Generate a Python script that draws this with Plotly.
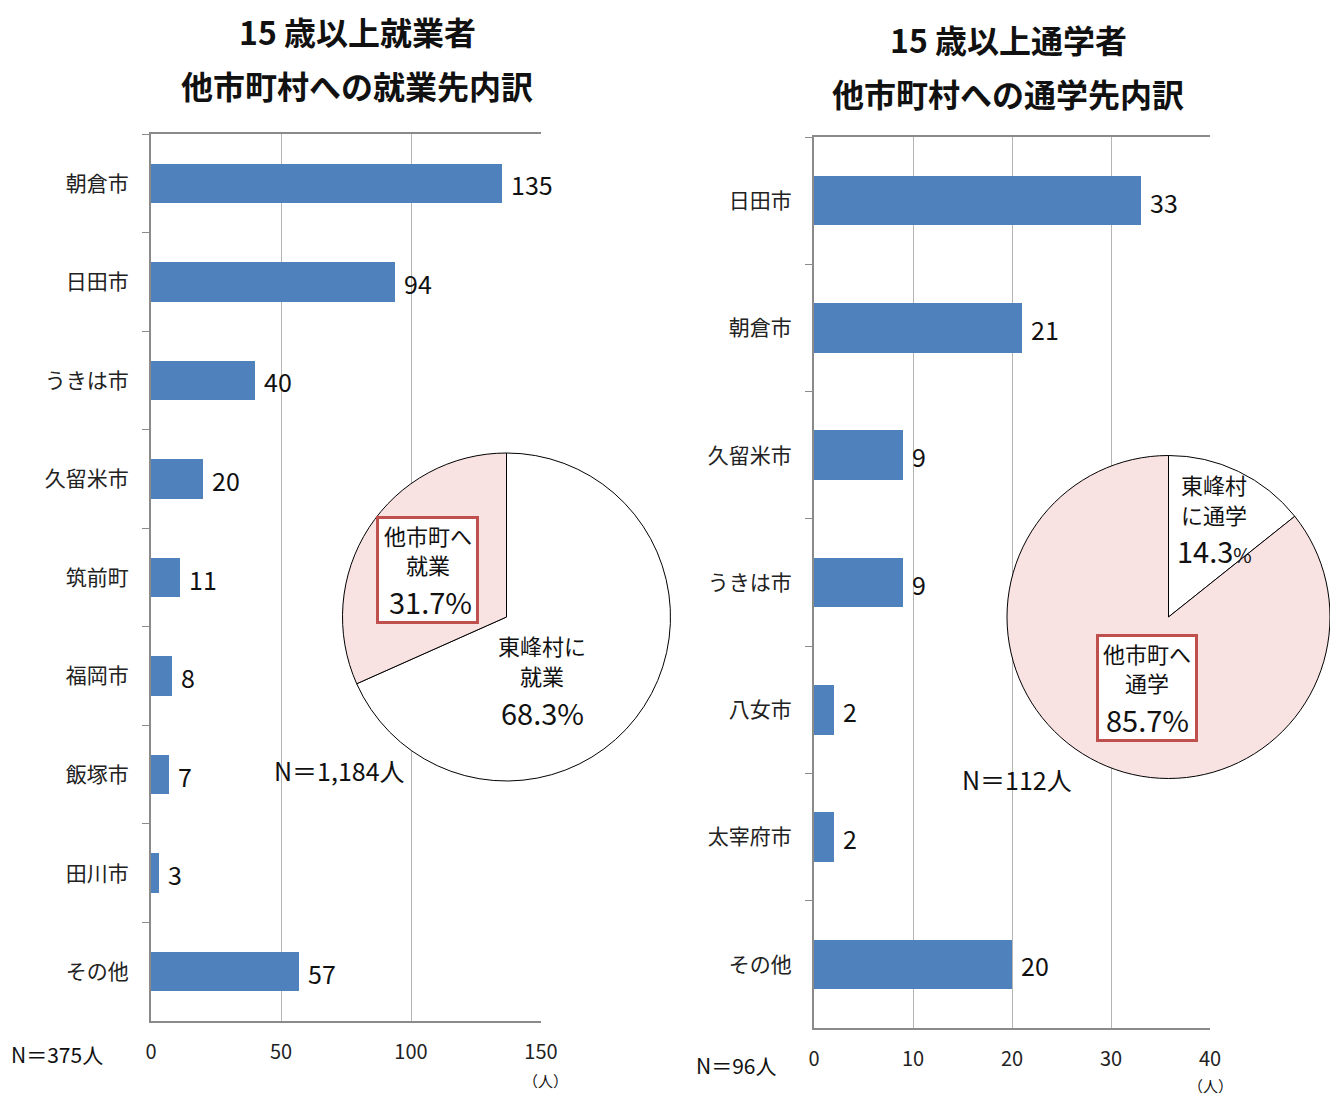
import plotly.graph_objects as go

# ---- data ----
work_places = ["朝倉市", "日田市", "うきは市", "久留米市", "筑前町", "福岡市", "飯塚市", "田川市", "その他"]
work_counts = [135, 94, 40, 20, 11, 8, 7, 3, 57]

school_places = ["日田市", "朝倉市", "久留米市", "うきは市", "八女市", "太宰府市", "その他"]
school_counts = [33, 21, 9, 9, 2, 2, 20]

# pie: [within the village, other municipalities]
work_split = [809, 375]
school_split = [16, 96]

work_ticks = [0, 50, 100, 150]
school_ticks = [0, 10, 20, 30, 40]

W, H = 1330, 1097
FONT = "Noto Sans CJK JP"
BAR = "#4f81bd"
GRID = "#b4b4b4"
AXIS = "#8a8a8a"
BOX = "#c0504d"
PINK = "#f8e2e2"


def fx(p):
    return p / W


def fy(p):
    return 1 - p / H


fig = go.Figure()

fig.add_trace(go.Bar(
    x=work_counts, y=work_places, orientation="h", width=0.4,
    marker=dict(color=BAR, line=dict(width=0)),
    xaxis="x", yaxis="y", hoverinfo="x+y",
))
fig.add_trace(go.Bar(
    x=school_counts, y=school_places, orientation="h", width=0.39,
    marker=dict(color=BAR, line=dict(width=0)),
    xaxis="x2", yaxis="y2", hoverinfo="x+y",
))

pie_style = dict(
    sort=False, direction="clockwise", rotation=0, textinfo="none",
    marker=dict(
        colors=["#ffffff", PINK],
        line=dict(color="#000000", width=1),
    ),
    showlegend=False,
)
fig.add_trace(go.Pie(
    values=work_split, labels=["東峰村に就業", "他市町へ就業"],
    domain=dict(x=[fx(342), fx(671)], y=[fy(781), fy(453)]), **pie_style,
))
fig.add_trace(go.Pie(
    values=school_split, labels=["東峰村に通学", "他市町へ通学"],
    domain=dict(x=[fx(1007), 1.0], y=[fy(781), fy(453)]), **pie_style,
))


def xaxis_cfg(dom, ticks, yref):
    return dict(
        domain=dom, range=[ticks[0], ticks[-1]], tickvals=ticks,
        showgrid=True, gridcolor=GRID, gridwidth=1, zeroline=False,
        showline=True, linecolor=AXIS, linewidth=2, mirror=True,
        ticks="", ticklabelstandoff=12, anchor=yref, automargin=False,
        tickfont=dict(family=FONT, size=20, color="#222222"), fixedrange=True,
    )


def yaxis_cfg(dom, xref):
    return dict(
        domain=dom, type="category", autorange="reversed",
        showline=True, linecolor=AXIS, linewidth=2, showgrid=False,
        ticks="outside", tickson="boundaries", ticklen=7, tickcolor=AXIS, tickwidth=1,
        ticklabelstandoff=16, anchor=xref, automargin=False,
        tickfont=dict(family=FONT, size=21, color="#222222"), fixedrange=True,
    )


annotations = []


def label(text, x, y, size, bold=False, xanchor="center", color="#111111"):
    annotations.append(dict(
        text=f"<b>{text}</b>" if bold else text, x=fx(x), y=fy(y),
        xref="paper", yref="paper", xanchor=xanchor, yanchor="middle",
        showarrow=False, font=dict(family=FONT, size=size, color=color),
    ))


# titles
label("15 歳以上就業者", 357, 31, 32, bold=True)
label("他市町村への就業先内訳", 357, 85, 32, bold=True)
label("15 歳以上通学者", 1008, 39, 32, bold=True)
label("他市町村への通学先内訳", 1008, 93, 32, bold=True)

# bar value labels
for name, v in zip(work_places, work_counts):
    annotations.append(dict(
        text=str(v), x=v, y=name, xref="x", yref="y", xanchor="left", yanchor="middle",
        xshift=7, yshift=-1, showarrow=False, font=dict(family=FONT, size=25, color="#111111"),
    ))
for name, v in zip(school_places, school_counts):
    annotations.append(dict(
        text=str(v), x=v, y=name, xref="x2", yref="y2", xanchor="left", yanchor="middle",
        xshift=7, yshift=-1, showarrow=False, font=dict(family=FONT, size=25, color="#111111"),
    ))

# sample sizes and units
label(f"N＝{sum(work_counts)}人", 57, 1054, 21)
label(f"N＝{sum(school_counts)}人", 736, 1065, 21)
label("（人）", 545, 1080, 15)
label("（人）", 1210, 1085, 15)
label(f"N＝{sum(work_split):,}人", 339, 770, 25)
label(f"N＝{sum(school_split):,}人", 1017, 779, 25)


def pct(vals, i):
    return f"{100 * vals[i] / sum(vals):.1f}"


def box(cx, cy, w, h):
    annotations.append(dict(
        text=" ", x=fx(cx), y=fy(cy), xref="paper", yref="paper",
        xanchor="center", yanchor="middle", showarrow=False,
        width=w, height=h, bgcolor="#ffffff", bordercolor=BOX, borderwidth=3, borderpad=0,
    ))


# pie labels: employment
label("東峰村に", 542, 645, 22)
label("就業", 542, 675, 22)
label(pct(work_split, 0) + "%", 542, 712, 29)
box(427.5, 570, 97, 102)
label("他市町へ", 428, 535, 22)
label("就業", 428, 564, 22)
label(pct(work_split, 1) + "%", 431, 601, 29)

# pie labels: schooling
label("東峰村", 1214, 484, 22)
label("に通学", 1214, 514, 22)
label(pct(school_split, 0) + "<span style='font-size:20px'>%</span>", 1214, 550, 29)
box(1147, 688, 96, 102)
label("他市町へ", 1147, 653, 22)
label("通学", 1147, 682, 22)
label(pct(school_split, 1) + "%", 1147, 719, 29)

fig.update_layout(
    width=W, height=H, margin=dict(l=0, r=0, t=0, b=0, autoexpand=False),
    paper_bgcolor="#ffffff", plot_bgcolor="#ffffff",
    showlegend=False, bargap=0,
    font=dict(family=FONT, color="#111111"),
    xaxis=xaxis_cfg([fx(151), fx(541)], work_ticks, "y"),
    yaxis=yaxis_cfg([fy(1021), fy(134)], "x"),
    xaxis2=xaxis_cfg([fx(814), fx(1210)], school_ticks, "y2"),
    yaxis2=yaxis_cfg([fy(1028), fy(137)], "x2"),
    annotations=annotations,
)

fig.write_html("out.html", config={"displayModeBar": False})
